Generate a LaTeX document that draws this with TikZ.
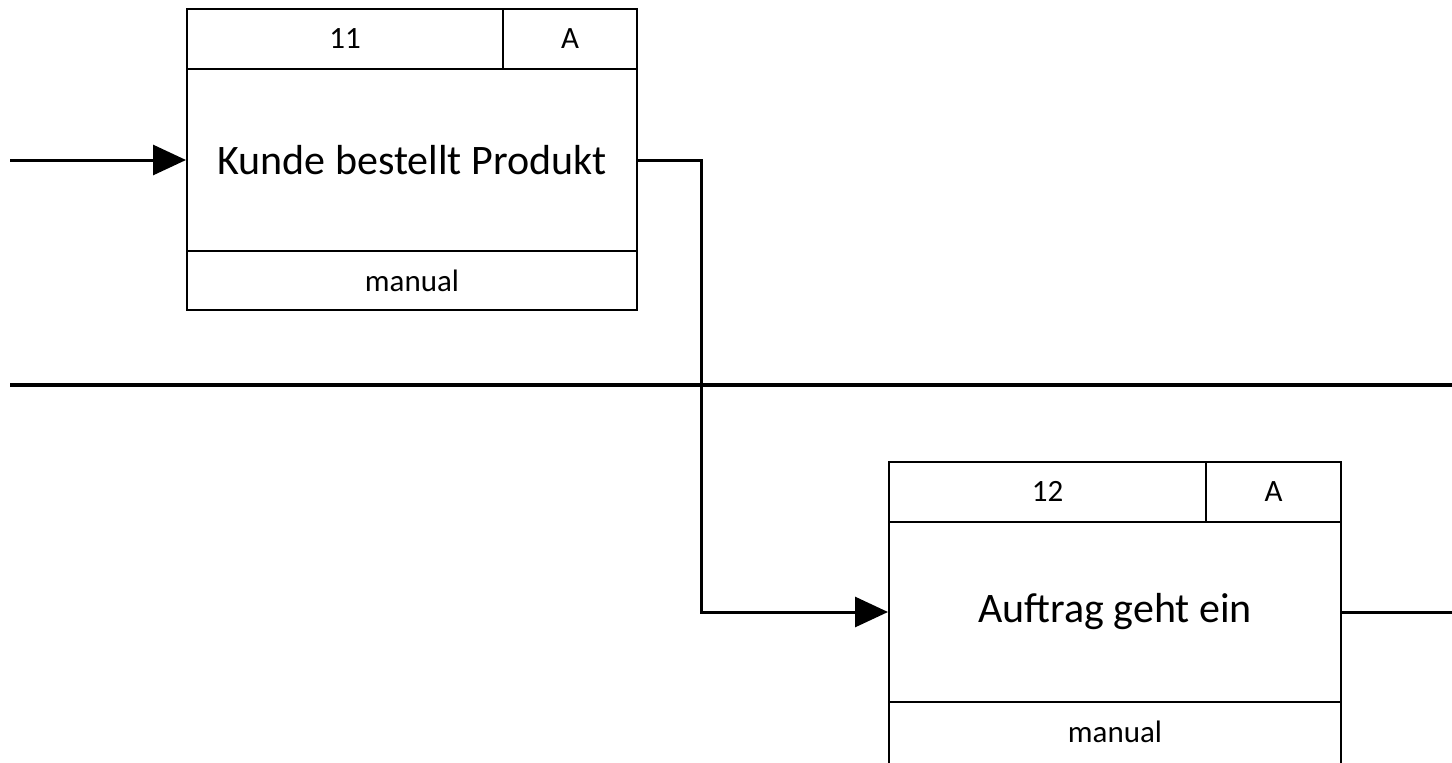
\documentclass[tikz,border=0pt]{standalone}
\usepackage{fontspec}
\setmainfont{Carlito}
\usetikzlibrary{arrows.meta}
\tikzset{
  cell/.style={draw=black, line width=1pt, rectangle, inner sep=0pt, anchor=center},
  small/.style={font=\fontsize{15.5}{18}\selectfont},
  big/.style={font=\fontsize{21}{25}\selectfont},
  conn/.style={line width=1.5pt, -{Triangle[length=16.5pt,width=15pt]}},
  plain/.style={line width=1.5pt},
  lane/.style={line width=2pt}
}
\begin{document}
\begin{tikzpicture}[x=0.5pt,y=-0.5pt]
\useasboundingbox (0,0) rectangle (1452,762);
\clip (0,0) rectangle (1452,762);
% box 1
\node[cell, small, minimum width=158pt, minimum height=30pt] (b1id) at (345,39) {11};
\node[cell, small, minimum width=67pt, minimum height=30pt] (b1a) at (570,39) {A};
\node[cell, big, minimum width=225pt, minimum height=91pt] (b1) at (412,160) {Kunde bestellt Produkt};
\node[cell, small, minimum width=225pt, minimum height=29.5pt] (b1f) at (412,280.5) {manual};
% box 2
\node[cell, small, minimum width=158.5pt, minimum height=30pt] (b2id) at (1047.5,491.5) {12};
\node[cell, small, minimum width=67.5pt, minimum height=30pt] (b2a) at (1273.5,491.5) {A};
\node[cell, big, minimum width=226pt, minimum height=90pt] (b2) at (1115,612) {Auftrag geht ein};
\node[cell, small, minimum width=226pt, minimum height=34pt] (b2f) at (1115,736) {};
\node[small] (b2ft) at (1115,732) {manual};
% lane line
\coordinate (l1) at (10,385);
\coordinate (l2) at (1452,385);
\draw[lane] (l1) -- (l2);
% connectors
\coordinate (in) at (10,160);
\coordinate (out) at (1452,612);
\coordinate (bend1) at (701,160);
\coordinate (bend2) at (701,612);
\draw[conn] (in) -- (b1.west);
\draw[conn] (b1.east) -- (bend1) -- (bend2) -- (b2.west);
\draw[plain] (b2.east) -- (out);
\end{tikzpicture}
\end{document}
